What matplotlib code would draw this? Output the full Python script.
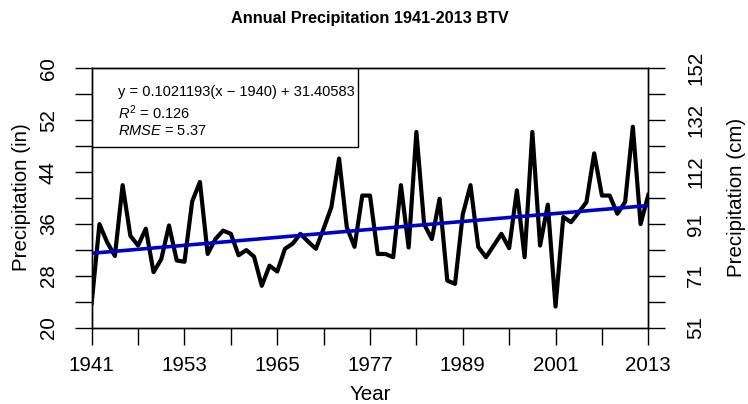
import matplotlib
matplotlib.use('Agg')
import matplotlib.pyplot as plt
from matplotlib.patches import Rectangle
import numpy as np

# ---------------- data ----------------
years = list(range(1941, 2014))
precip_in = [
    23.9, 36.0, 33.2, 31.1, 42.0, 34.2, 32.7, 35.3, 28.6, 30.6,   # 1941-1950
    35.8, 30.4, 30.2, 39.5, 42.5, 31.4, 33.7, 35.0, 34.5, 31.2,   # 1951-1960
    32.0, 31.0, 26.5, 29.6, 28.7, 32.2, 33.0, 34.5, 33.3, 32.2,   # 1961-1970
    35.3, 38.6, 46.1, 35.5, 32.5, 40.4, 40.4, 31.4, 31.4, 30.9,   # 1971-1980
    42.0, 32.4, 50.2, 36.0, 33.7, 39.9, 27.3, 26.8, 37.5, 42.0,   # 1981-1990
    32.5, 30.9, 32.7, 34.5, 32.3, 41.2, 30.9, 50.2, 32.7, 39.0,   # 1991-2000
    23.3, 37.1, 36.3, 37.8, 39.4, 46.9, 40.4, 40.4, 37.6, 39.4,   # 2001-2010
    51.0, 36.0, 40.5,                                             # 2011-2013
]
slope = 0.1021193
base_year = 1940
intercept = 31.40583
r2 = 0.126
rmse = 5.37

x_tick_years = list(range(1941, 2014, 6))
x_label_years = list(range(1941, 2014, 12))
y_ticks_in = list(range(20, 61, 4))
y_label_in = [20, 28, 36, 44, 52, 60]
cm_per_in = 2.54

title = 'Annual Precipitation 1941-2013 BTV'
xlabel = 'Year'
ylabel_left = 'Precipitation (in)'
ylabel_right = 'Precipitation (cm)'

# ---------------- style ----------------
plt.rcParams['font.family'] = ['Liberation Sans', 'DejaVu Sans']
plt.rcParams['mathtext.fontset'] = 'custom'
plt.rcParams['mathtext.rm'] = 'Liberation Sans'
plt.rcParams['mathtext.it'] = 'Liberation Sans:italic'

W, H = 748, 404
fig = plt.figure(figsize=(W / 100, H / 100), dpi=100)

def px(x, y):
    return x / W, 1 - y / H

left, right, top, bottom = 91.7, 648.3, 68.3, 328.0
ax = fig.add_axes([left / W, 1 - bottom / H, (right - left) / W, (bottom - top) / H])

ax.plot(years, precip_in, color='black', lw=3.0, zorder=3)
xs = np.array([years[0], years[-1]], dtype=float)
ax.plot(xs, slope * (xs - base_year) + intercept, color='#0000c8', lw=2.6, zorder=4)

ax.set_xlim(years[0], years[-1])
ax.set_ylim(20, 60)

ax.set_xticks(x_tick_years)
ax.set_xticklabels([str(y) if y in x_label_years else '' for y in x_tick_years])
ax.set_yticks(y_ticks_in)
ax.set_yticklabels([str(v) if v in y_label_in else '' for v in y_ticks_in],
                   rotation=90, va='center')

tick_len = 12.3
fs = 14.8
ax.tick_params(axis='x', direction='out', length=tick_len, width=1.0, labelsize=fs, pad=8)
ax.tick_params(axis='y', direction='out', length=tick_len, width=1.0, labelsize=fs, pad=12)
for s in ax.spines.values():
    s.set_linewidth(1.0)

ax2 = ax.twinx()
ax2.set_ylim(20, 60)
ax2.set_yticks(y_ticks_in)
ax2.set_yticklabels([f'{v * cm_per_in:.0f}' if v in y_label_in else '' for v in y_ticks_in],
                    rotation=90, va='center')
ax2.tick_params(axis='y', direction='out', length=tick_len, width=1.0, labelsize=fs, pad=15)
for s in ax2.spines.values():
    s.set_linewidth(1.0)

# stats box
box = Rectangle((0, 1 - 0.304), 0.479, 0.304, transform=ax.transAxes,
                facecolor='white', edgecolor='black', lw=1.0, zorder=5)
ax.add_patch(box)

tfs = 10.5
fig.text(*px(118, 92), f'y = {slope}(x \u2212 {base_year}) + {intercept}',
         fontsize=tfs, ha='left', va='center', zorder=6)
fig.text(*px(118, 113), r'$R^2$' + f' = {r2}', fontsize=tfs, ha='left', va='center', zorder=6)
fig.text(*px(118, 131), r'$RMSE$' + f' = {rmse}', fontsize=tfs, ha='left', va='center', zorder=6)

fig.text(*px(370, 18), title, fontsize=11.7, fontweight='bold', ha='center', va='center')
fig.text(*px(370, 394), xlabel, fontsize=fs, ha='center', va='center')
fig.text(*px(22, 197), ylabel_left, fontsize=fs, rotation=90, ha='center', va='center')
fig.text(*px(737, 197), ylabel_right, fontsize=fs, rotation=90, ha='center', va='center')

fig.savefig('out.png', dpi=100)
